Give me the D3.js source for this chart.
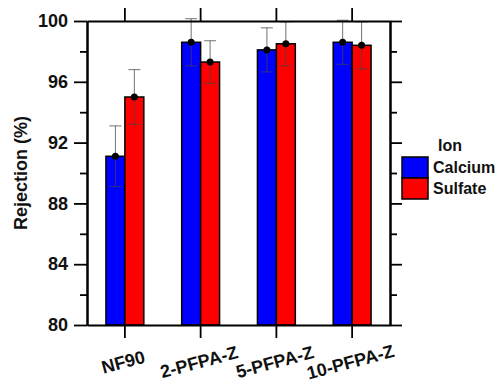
<script src="https://d3js.org/d3.v7.min.js"></script>

<style>
  body { margin: 0; background: #fff; }
  text { font-family: "Liberation Sans", Arial, sans-serif; font-weight: bold; }
</style>

<body>
  <svg id="vis"></svg>
</body>

<script>
  // data
  var categories = ["NF90", "2-PFPA-Z", "5-PFPA-Z", "10-PFPA-Z"];
  var seriesNames = ["Calcium", "Sulfate"];
  var calcium = [91.1, 98.6, 98.1, 98.6];
  var calciumErr = [2.0, 1.55, 1.45, 1.45];
  var sulfate = [95.0, 97.3, 98.5, 98.4];
  var sulfateErr = [1.8, 1.4, 1.45, 1.55];
  var yTicks = [80, 84, 88, 92, 96, 100];
  var colors = ["#0000ff", "#ff0000"];

  var width = 501, height = 388;
  var mLeft = 87, mRight = 390, mTop = 21, mBottom = 325;

  var svg = d3.select("#vis")
    .attr("width", width)
    .attr("height", height);

  // scales
  var xscale = d3.scaleBand()
    .domain(categories)
    .range([mLeft, mRight]);

  var inner = d3.scaleBand()
    .domain(seriesNames)
    .range([xscale.bandwidth() * 0.25, xscale.bandwidth() * 0.75]);

  var yscale = d3.scaleLinear()
    .domain([80, 100])
    .range([mBottom, mTop]);

  var rows = [];
  categories.forEach(function(c, i) {
    rows.push({cat: c, series: "Calcium", value: calcium[i], err: calciumErr[i], color: colors[0]});
    rows.push({cat: c, series: "Sulfate", value: sulfate[i], err: sulfateErr[i], color: colors[1]});
  });

  // bars
  svg.selectAll(".bar")
    .data(rows)
    .enter().append("rect")
    .attr("class", "bar")
    .attr("x", function(d){ return xscale(d.cat) + inner(d.series) })
    .attr("y", function(d){ return yscale(d.value) })
    .attr("width", inner.bandwidth())
    .attr("height", function(d){ return mBottom - yscale(d.value) })
    .attr("fill", function(d){ return d.color })
    .attr("stroke", "#000")
    .attr("stroke-width", 1.5);

  // error bars
  var errs = svg.selectAll(".err")
    .data(rows)
    .enter().append("g")
    .attr("class", "err")
    .attr("stroke", "#444")
    .attr("stroke-opacity", 0.75)
    .attr("stroke-width", 1);

  function cx(d) { return xscale(d.cat) + inner(d.series) + inner.bandwidth() / 2; }

  errs.append("line")
    .attr("x1", cx).attr("x2", cx)
    .attr("y1", function(d){ return yscale(d.value + d.err) })
    .attr("y2", function(d){ return yscale(d.value - d.err) });
  [1, -1].forEach(function(s) {
    errs.append("line")
      .attr("x1", function(d){ return cx(d) - 6 })
      .attr("x2", function(d){ return cx(d) + 6 })
      .attr("y1", function(d){ return yscale(d.value + s * d.err) })
      .attr("y2", function(d){ return yscale(d.value + s * d.err) });
  });

  svg.selectAll(".dot")
    .data(rows)
    .enter().append("circle")
    .attr("cx", cx)
    .attr("cy", function(d){ return yscale(d.value) })
    .attr("r", 3.5)
    .attr("fill", "#000");

  // axes
  var minor = d3.range(82, 100, 4);

  var yLeft = svg.append("g")
    .attr("transform", "translate(" + mLeft + ",0)")
    .call(d3.axisLeft(yscale).tickValues(yTicks).tickSize(13).tickSizeOuter(0).tickPadding(6).tickFormat(d3.format("d")));
  svg.append("g")
    .attr("transform", "translate(" + mLeft + ",0)")
    .call(d3.axisLeft(yscale).tickValues(minor).tickSize(7).tickSizeOuter(0).tickFormat(""));

  svg.append("g")
    .attr("transform", "translate(" + mRight + ",0)")
    .call(d3.axisRight(yscale).tickValues(yTicks).tickSize(12).tickSizeOuter(0).tickFormat(""));
  svg.append("g")
    .attr("transform", "translate(" + mRight + ",0)")
    .call(d3.axisRight(yscale).tickValues(minor).tickSize(7).tickSizeOuter(0).tickFormat(""));

  svg.append("g")
    .attr("transform", "translate(0," + mTop + ")")
    .call(d3.axisTop(xscale).tickSize(13).tickSizeOuter(0).tickFormat(""));

  svg.append("g")
    .attr("transform", "translate(0," + mBottom + ")")
    .call(d3.axisBottom(xscale).tickSize(13).tickSizeOuter(0).tickFormat(""));

  svg.selectAll(".domain").attr("stroke-width", 2).attr("stroke", "#000");
  svg.selectAll(".tick line").attr("stroke-width", 1.8).attr("stroke", "#000");

  yLeft.selectAll(".tick text")
    .attr("font-size", 18)
    .attr("fill", "#111");

  // rotated category labels
  svg.selectAll(".xlab")
    .data(categories)
    .enter().append("text")
    .attr("class", "xlab")
    .attr("text-anchor", "middle")
    .attr("font-size", 18)
    .attr("fill", "#111")
    .attr("transform", function(d){ return "translate(" + (xscale(d) + xscale.bandwidth() / 2) + ",368) rotate(-15)" })
    .text(function(d){ return d });

  // Y axis label
  svg.append("text")
    .attr("text-anchor", "middle")
    .attr("font-size", 18)
    .attr("fill", "#111")
    .attr("transform", "translate(27," + ((mTop + mBottom) / 2) + ") rotate(-90)")
    .text("Rejection (%)");

  // legend
  var legend = svg.append("g").attr("transform", "translate(402,157)");
  legend.append("text")
    .attr("x", 36).attr("y", -6)
    .attr("font-size", 16)
    .attr("fill", "#111")
    .text("Ion");
  var items = legend.selectAll(".item")
    .data(seriesNames)
    .enter().append("g")
    .attr("transform", function(d, i){ return "translate(0," + (i * 21) + ")" });
  items.append("rect")
    .attr("width", 26).attr("height", 21)
    .attr("fill", function(d, i){ return colors[i] })
    .attr("stroke", "#000").attr("stroke-width", 1.5);
  items.append("text")
    .attr("x", 31).attr("y", 16)
    .attr("font-size", 16)
    .attr("fill", "#111")
    .text(function(d){ return d });
</script>
